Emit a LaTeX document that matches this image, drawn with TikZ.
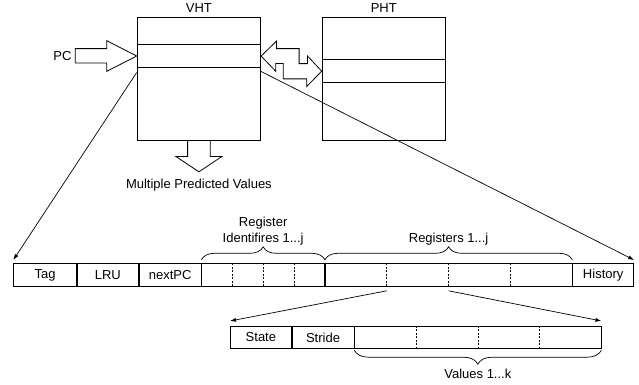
\documentclass[tikz,border=0pt]{standalone}
\usepackage{fontspec}
\setmainfont{Liberation Sans}
\usepackage{tikz}
\usetikzlibrary{calc,positioning,arrows.meta,decorations.pathreplacing}
\newcommand{\lblfont}{\fontsize{13}{16.6}\selectfont}
\tikzset{
	box/.style={draw, line width=0.8pt, inner sep=0pt, anchor=north west},
	cell/.style={box, minimum height=22.7pt, font=\lblfont},
	lbl/.style={inner sep=0pt, font=\lblfont},
	blk/.style={line width=0.8pt, fill=white},
	ptr/.style={line width=0.7pt, -{Latex[length=6pt,width=4pt]}},
	sep/.style={line width=0.6pt, dash pattern=on 2pt off 1.5pt},
	brc/.style={line width=0.7pt, decorate, decoration={brace, amplitude=13pt}}
}

\begin{document}
\begin{tikzpicture}[x=1pt, y=-1pt]
			%%%%% START %%%%%
			\useasboundingbox (0,0) rectangle (639,385);
			
			% tables
			\node[box, minimum width=123.6pt, minimum height=123.3pt] (vht) at (136.7, 17) {};
			\node[box, minimum width=123.6pt, minimum height=23.3pt] (vrow) at (136.7, 44) {};
			\node[lbl, above=4pt of vht] {VHT};
			
			\node[box, minimum width=123.3pt, minimum height=123pt] (pht) at (321.7, 17) {};
			\node[box, minimum width=123.3pt, minimum height=23pt] (prow) at (321.7, 59.3) {};
			\node[lbl, above=4pt of pht] {PHT};
			
			% PC in
			\draw[blk] (vrow.west) -- ++(-30, -15.4) -- ++(0, 8) -- ++(-31.4, 0) coordinate (pctop) -- ++(0, 14.4) coordinate (pcbot) -- ++(31.4, 0) -- ++(0, 8.3) -- cycle;
			\coordinate (pctail) at ($(pctop)!0.5!(pcbot)$);
			\node[lbl, left=3.6pt of pctail] (pc) {PC};
			
			% VHT <-> PHT
			\draw[blk] (vrow.east) -- ++(15.4, -15) -- ++(0, 7.6) -- ++(22.6, 0) -- ++(0, 15) -- ++(8.4, 0) -- ++(0, -7.6) -- (prow.west) -- ++(-15, 15.3) -- ++(0, -7.6) -- ++(-23.4, 0) -- ++(0, -15.4) -- ++(-7.6, 0) -- ++(0, 7.7) -- cycle;
			
			% out
			\draw[blk] ([xshift=-11.3pt]vht.south) -- ++(0, 15.4) -- ++(-11.7, 0) -- ++(23, 15.3) coordinate (mpvtip) -- ++(23, -15.3) -- ++(-11.7, 0) -- ++(0, -15.4);
			\node[lbl, below=7pt of mpvtip] (mpv) {Multiple Predicted Values};
			
			% entry
			\node[cell, minimum width=62.7pt] (tag) at (13.3, 263.3) {Tag};
			\node[cell, minimum width=61.3pt] (lru) at (tag.north east) {LRU};
			\node[cell, minimum width=61.7pt] (npc) at (lru.north east) {nextPC};
			\node[cell, minimum width=122.7pt] (regid) at (npc.north east) {};
			\node[cell, minimum width=246.6pt] (regs) at (regid.north east) {};
			\node[cell, minimum width=61pt] (hist) at (regs.north east) {History};
			
			% register
			\node[cell, minimum width=61pt] (state) at (230, 325.7) {State};
			\node[cell, minimum width=61.7pt] (stride) at (state.north east) {Stride};
			\node[cell, minimum width=246.3pt] (vals) at (stride.north east) {};
			
			\foreach \i in {1,2,3} {
				\draw[sep] ($(regid.north west)!\i/4!(regid.north east)$) -- ($(regid.south west)!\i/4!(regid.south east)$);
				\draw[sep] ($(regs.north west)!\i/4!(regs.north east)$) -- ($(regs.south west)!\i/4!(regs.south east)$);
				\draw[sep] ($(vals.north west)!\i/4!(vals.north east)$) -- ($(vals.south west)!\i/4!(vals.south east)$);
			}
			
			\draw[brc] ([yshift=3.5pt]regid.north west) -- ([yshift=3.5pt]regid.north east) node[lbl, midway, above=14pt, align=center] {Register\\Identifires 1...j};
			\draw[brc] ([yshift=3.5pt]regs.north west) -- ([yshift=3.5pt]regs.north east) node[lbl, midway, above=14pt] {Registers 1...j};
			\draw[brc, decoration={amplitude=14pt}] ([yshift=-1pt]vals.south east) -- ([yshift=-1pt]vals.south west) node[lbl, midway, below=19pt] {Values 1...k};
			
			% pointers
			\draw[ptr] ([yshift=-4.4pt]vrow.south west) -- ([yshift=3.3pt]tag.north west);
			\draw[ptr] ([yshift=-3.4pt]vrow.south east) -- ([yshift=3.3pt]hist.north east);
			
			\coordinate (rsplit) at ($(regs.south west)!0.25!(regs.south east) + (0, 4)$);
			\coordinate (rmid) at ($(regs.south) + (0, 4)$);
			\draw[ptr] (rsplit) -- ([yshift=4.7pt]state.north west);
			\draw[ptr] (rmid) -- ([yshift=4.7pt]vals.north east);
			
			%%%%% END %%%%%
\end{tikzpicture}
\end{document}
